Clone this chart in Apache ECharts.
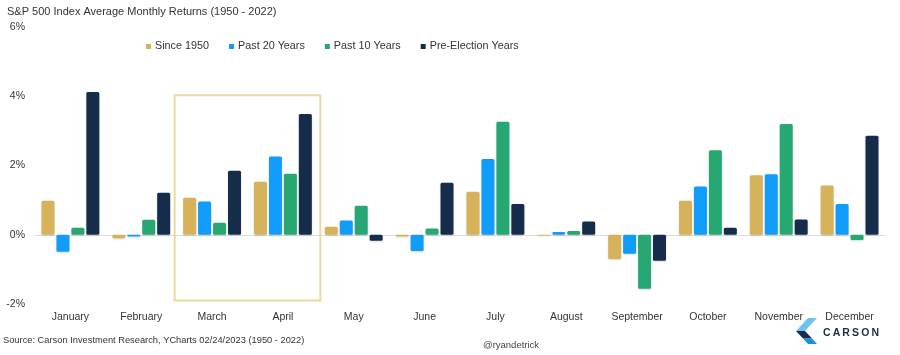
<!DOCTYPE html>
<html>
<head>
<meta charset="utf-8">
<script src="https://cdn.jsdelivr.net/npm/echarts@6/dist/echarts.min.js"></script>
<style>html,body{margin:0;padding:0;background:#fff}#c{width:900px;height:355px}</style>
</head>
<body>
<div id="c"></div>
<script>
const months = ['January','February','March','April','May','June','July','August','September','October','November','December'];
const since1950 = [0.98,-0.10,1.07,1.53,0.23,-0.05,1.24,-0.02,-0.70,0.98,1.72,1.42];
const past20 = [-0.49,-0.05,0.96,2.26,0.41,-0.47,2.19,0.08,-0.55,1.39,1.75,0.89];
const past10 = [0.20,0.43,0.35,1.76,0.84,0.18,3.26,0.11,-1.56,2.44,3.20,-0.15];
const preElection = [4.12,1.21,1.85,3.49,-0.17,1.50,0.89,0.38,-0.75,0.20,0.44,2.86];
const yTicks = [-2,0,2,4,6];

const FONT = '"Liberation Sans", Arial, sans-serif';
const colors = ['#d6b35a','#109cf8','#27a872','#162c4b'];
const names = ['Since 1950','Past 20 Years','Past 10 Years','Pre-Election Years'];
const datas = [since1950, past20, past10, preElection];

const chart = echarts.init(document.getElementById('c'), null, {renderer:'canvas'});
const series = datas.map((d,i)=>({
  name: names[i], type:'bar', data:d, barWidth:13, barGap:'15%',
  itemStyle:{color:colors[i], borderRadius:1.5, shadowColor:'rgba(0,0,0,0.15)', shadowBlur:2, shadowOffsetY:1},
  markLine: i===0 ? {silent:true, symbol:'none', label:{show:false},
    lineStyle:{color:'#dcdcdc', width:1, type:'solid'}, data:[{yAxis:0}], z:0} : undefined
}));

chart.setOption({
  animation:false,
  textStyle:{fontFamily:FONT},
  title:{text:'S&P 500 Index Average Monthly Returns (1950 - 2022)', left:2, top:1,
    textStyle:{fontSize:11, fontWeight:'normal', color:'#333', fontFamily:FONT}},
  legend:{data:names, top:36, left:141, itemWidth:5, itemHeight:5, itemGap:20, icon:'rect',
    textStyle:{fontSize:10.8, color:'#333', fontFamily:FONT, padding:[0,0,0,-1]}},
  grid:{left:35, right:15, top:27, bottom:51, containLabel:false},
  xAxis:{type:'category', data:months, axisLine:{show:false, onZero:false}, axisTick:{show:false},
    axisLabel:{fontSize:10.5, color:'#333', margin:8, fontFamily:FONT}},
  yAxis:{type:'value', min:-2, max:6, interval:2, splitLine:{show:false}, axisLine:{show:false}, axisTick:{show:false},
    axisLabel:{formatter:'{value}%', fontSize:10.5, color:'#333', margin:10, fontFamily:FONT}},
  series: series
});

// highlight box around March-April from axis scales
const cx1 = chart.convertToPixel({xAxisIndex:0}, 'March');
const cx2 = chart.convertToPixel({xAxisIndex:0}, 'April');
const band = cx2 - cx1;
const yTop = chart.convertToPixel({yAxisIndex:0}, 4.03);
const yBot = chart.convertToPixel({yAxisIndex:0}, -1.9);
chart.setOption({
  graphic:[
    {type:'rect', shape:{x:cx1-band/2-2, y:yTop, width:band*2+4, height:yBot-yTop},
     style:{fill:'none', stroke:'#ecd8a0', lineWidth:2}, z:10},
    {type:'text', left:3, top:336, style:{text:'Source: Carson Investment Research, YCharts 02/24/2023 (1950 - 2022)', fontSize:9.3, fill:'#333', fontFamily:FONT}},
    {type:'text', left:483, top:340, style:{text:'@ryandetrick', fontSize:9.5, fill:'#444', fontFamily:FONT}},
    {type:'polygon', shape:{points:[[808,318],[817,318],[805,331],[796,331]]}, style:{fill:'#6fc3f2'}},
    {type:'polygon', shape:{points:[[796,331],[805,331],[812,338.5],[803,338.5]]}, style:{fill:'#17304f'}},
    {type:'polygon', shape:{points:[[803,338.5],[812,338.5],[817,344],[808,344]]}, style:{fill:'#1b8fe0'}},
    {type:'text', left:823, top:328, style:{text:'C\u2009A\u2009R\u2009S\u2009O\u2009N', fontSize:10.5, fontWeight:'bold', fill:'#1c2b45', fontFamily:FONT}}
  ]
});
</script>
</body>
</html>
